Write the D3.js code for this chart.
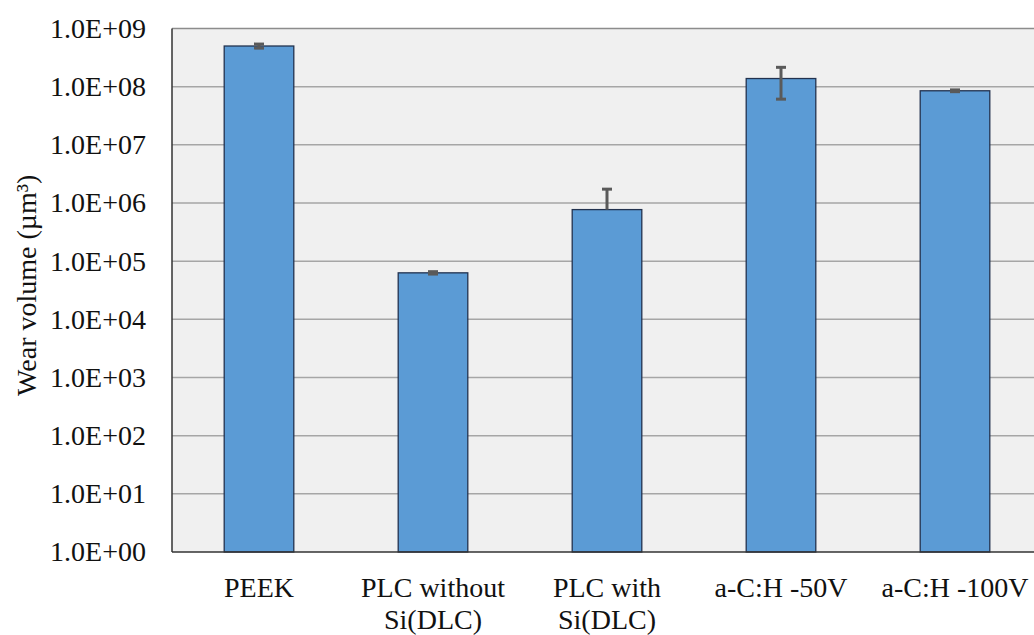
<!DOCTYPE html>
<html>
<head>
<meta charset="utf-8">
<script src="https://cdn.jsdelivr.net/npm/d3@7"></script>
<style>
  html, body { margin: 0; padding: 0; background: #ffffff; }
  svg { display: block; }
  svg text { font-family: 'Liberation Serif', 'Times New Roman', Times, 'Nimbus Roman', 'DejaVu Serif', serif !important; fill: #111; }
</style>
</head>
<body>
<svg id="chart" width="1034" height="635"></svg>
<script>
// Wear volume per coating (µm³), mean and ± error
const categories = [["PEEK"], ["PLC without", "Si(DLC)"], ["PLC with", "Si(DLC)"], ["a-C:H -50V"], ["a-C:H -100V"]];
const wearVolume = [5.0e8, 6.3e4, 7.7e5, 1.38e8, 8.5e7];
const wearError  = [4.0e7, 3.0e3, 9.6e5, 7.7e7, 3.0e6];
const tickValues = [1e0, 1e1, 1e2, 1e3, 1e4, 1e5, 1e6, 1e7, 1e8, 1e9];
const tickLabels = ["1.0E+00", "1.0E+01", "1.0E+02", "1.0E+03", "1.0E+04",
                    "1.0E+05", "1.0E+06", "1.0E+07", "1.0E+08", "1.0E+09"];
const yTitle = "Wear volume (µm³)";

const FONT = "'Liberation Serif', 'Times New Roman', Times, 'Nimbus Roman', 'DejaVu Serif', serif";

const svg = d3.select("#chart");
const plot = { left: 172, right: 1042, top: 28.5, bottom: 552 };

const x = d3.scaleBand()
  .domain(d3.range(categories.length))
  .range([plot.left, plot.right])
  .paddingInner(0.6)
  .paddingOuter(0.3);

const y = d3.scaleLog()
  .domain([1, 1e9])
  .range([plot.bottom, plot.top]);

// plot background
svg.append("rect")
  .attr("x", plot.left).attr("y", plot.top)
  .attr("width", plot.right - plot.left).attr("height", plot.bottom - plot.top)
  .attr("fill", "#f0f0f0");

// horizontal gridlines
svg.append("g")
  .selectAll("line")
  .data(tickValues.slice(1))
  .join("line")
  .attr("x1", plot.left).attr("x2", plot.right)
  .attr("y1", d => y(d)).attr("y2", d => y(d))
  .attr("stroke", d => d === 1e9 ? "#8c8c8c" : "#a6a6a6")
  .attr("stroke-width", 1.5);

// bars
svg.append("g")
  .selectAll("rect")
  .data(wearVolume)
  .join("rect")
  .attr("x", (d, i) => x(i))
  .attr("width", x.bandwidth())
  .attr("y", d => y(d))
  .attr("height", d => y(1) - y(d))
  .attr("fill", "#5b9bd5")
  .attr("stroke", "#22324f")
  .attr("stroke-width", 1.3);

// error bars (lower whisker omitted where it would fall below zero on the log axis)
const eb = svg.append("g").attr("stroke", "#5a5a5a").attr("stroke-width", 3);
wearVolume.forEach((v, i) => {
  const cx = x(i) + x.bandwidth() / 2;
  const hi = v + wearError[i];
  const lo = v - wearError[i];
  const yTop = y(hi);
  const yBot = lo > 0 ? y(lo) : y(v);
  eb.append("line").attr("x1", cx).attr("x2", cx).attr("y1", yTop).attr("y2", yBot);
  eb.append("line").attr("x1", cx - 5).attr("x2", cx + 5).attr("y1", yTop).attr("y2", yTop);
  if (lo > 0) {
    eb.append("line").attr("x1", cx - 5).attr("x2", cx + 5).attr("y1", yBot).attr("y2", yBot);
  }
});

// axis lines
svg.append("line")
  .attr("x1", plot.left).attr("x2", plot.left)
  .attr("y1", plot.top).attr("y2", plot.bottom)
  .attr("stroke", "#333").attr("stroke-width", 1.5);
svg.append("line")
  .attr("x1", plot.left).attr("x2", plot.right)
  .attr("y1", plot.bottom).attr("y2", plot.bottom)
  .attr("stroke", "#333").attr("stroke-width", 1.5);

// y axis tick labels
const yAxis = d3.axisLeft(y)
  .tickValues(tickValues)
  .tickFormat((d, i) => tickLabels[i])
  .tickSize(0)
  .tickPadding(26);
const gy = svg.append("g").attr("transform", `translate(${plot.left},0)`).call(yAxis);
gy.attr("font-family", FONT).attr("font-size", 28);
gy.select(".domain").remove();
gy.selectAll("text")
  .style("font-family", FONT)
  .attr("font-size", 28)
  .attr("fill", "#111");

// category labels
const gx = svg.append("g").style("font-family", FONT);
categories.forEach((lines, i) => {
  const t = gx.append("text")
    .attr("x", x(i) + x.bandwidth() / 2)
    .attr("y", 597)
    .attr("text-anchor", "middle")
    .style("font-family", FONT)
    .attr("font-size", 28);
  lines.forEach((ln, k) => {
    t.append("tspan")
      .attr("x", x(i) + x.bandwidth() / 2)
      .attr("dy", k === 0 ? 0 : 32)
      .text(ln);
  });
});

// y axis title
svg.append("text")
  .attr("transform", `translate(36,${(plot.top + plot.bottom) / 2 - 5}) rotate(-90)`)
  .attr("text-anchor", "middle")
  .style("font-family", FONT)
  .attr("font-size", 28)
  .text(yTitle);
</script>
</body>
</html>
